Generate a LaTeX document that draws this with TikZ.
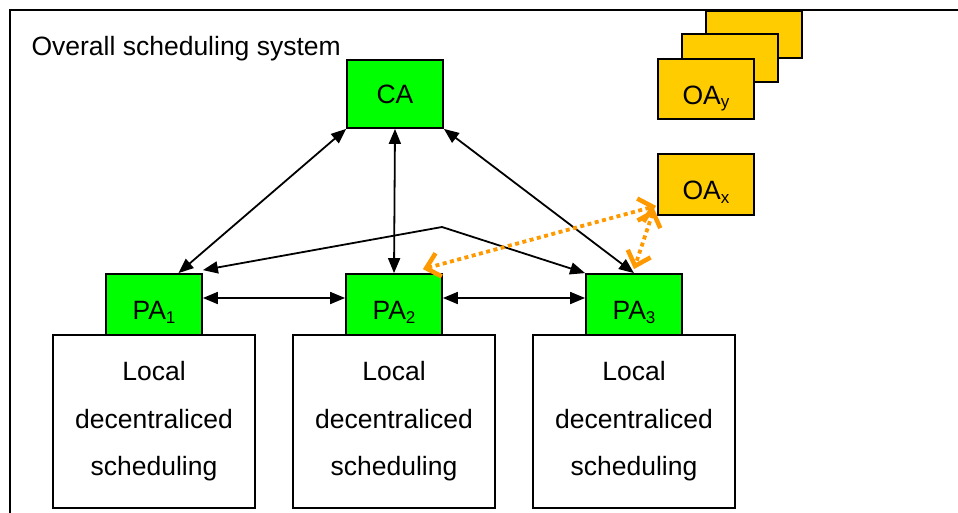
\documentclass[tikz,border=0pt]{standalone}
\usepackage{fontspec}
\setmainfont{Liberation Sans}
\usetikzlibrary{arrows.meta,calc}
\definecolor{pagreen}{HTML}{00FF00}
\definecolor{oayellow}{HTML}{FFCC00}
\definecolor{dotorange}{HTML}{FF9900}
\newcommand\sbs[1]{\raisebox{-3.5pt}{\fontsize{17}{17}\selectfont #1}}
\begin{document}
\begin{tikzpicture}[x=1pt,y=-1pt,
  every node/.style={font=\fontsize{26.5}{30}\selectfont},
  agentbox/.style={draw=black,line width=1.8pt,inner sep=0pt,minimum width=96pt},
  pabox/.style={agentbox,fill=pagreen,minimum height=61pt,text height=33pt,text depth=3pt},
  cabox/.style={agentbox,fill=pagreen,minimum height=68pt},
  oabox/.style={agentbox,fill=oayellow},
  sublabel/.style={text height=33pt,text depth=3pt},
  localbox/.style={draw=black,line width=1.8pt,fill=white,inner sep=0pt,minimum width=202pt,minimum height=173pt,align=center,font=\fontsize{26.5}{47.5}\selectfont},
  blktip/.tip={Triangle[length=15pt,width=12pt]},
  orngtip/.tip={Straight Barb[length=13pt,width=24pt,line width=4.5pt]},
  blk/.style={line width=1.8pt,blktip-blktip},
  orng/.style={draw=dotorange,line width=3.8pt,dash pattern=on 4pt off 3.5pt,orngtip-orngtip}
]
\useasboundingbox (0,0) rectangle (958,512);
\clip (0,0) rectangle (958,512);
\fill[white] (0,0) rectangle (958,512);
% outer frame
\draw[line width=1.6pt] (10,10) rectangle (1000,560);
\node[anchor=base west] (title) at (28,55) {Overall scheduling system};

% local scheduling boxes
\node[localbox] (L1) at (154,421.5) {Local\\decentraliced\\scheduling};
\node[localbox] (L2) at (394,421.5) {Local\\decentraliced\\scheduling};
\node[localbox] (L3) at (634,421.5) {Local\\decentraliced\\scheduling};

% agents
\node[cabox] (CA) at (395,94) {CA};
\node[pabox] (PA1) at (154,304.5) {PA\sbs{1}};
\node[pabox] (PA2) at (394,304.5) {PA\sbs{2}};
\node[pabox] (PA3) at (634,304.5) {PA\sbs{3}};

\node[oabox,minimum height=47pt] (OAb) at (754,34.5) {};
\node[oabox,minimum height=48pt] (OAm) at (730,58) {};
\node[oabox,minimum height=60pt,sublabel] (OAy) at (706,89) {OA\sbs{y}};
\node[oabox,minimum height=61pt,sublabel] (OAx) at (706,184.5) {OA\sbs{x}};

% black connectors
\draw[blk] (CA.south west) -- ($(PA1.north west)!0.75!(PA1.north east)$);
\draw[blk] (CA.south) -- (PA2.north);
\draw[blk] (CA.south east) -- (PA3.north);
\coordinate (peak) at (442,227);
\draw[blk] ([yshift=3pt]PA1.north east) -- (peak) -- (PA3.north west);
\draw[blk] ([yshift=6.5pt]PA1.east) -- ([yshift=6.5pt]PA2.west);
\draw[blk] ([yshift=6.5pt]PA2.east) -- ([yshift=6.5pt]PA3.west);

% orange dotted connectors
\coordinate (oxa) at ($(OAx.south west)+(-1,-10)$);
\coordinate (oxb) at ($(OAx.south west)+(-3,-7)$);
\draw[orng] ([xshift=-20pt,yshift=4pt]PA2.north east) -- (oxa);
\draw[orng] (oxb) -- ([yshift=4pt]PA3.north);
\end{tikzpicture}
\end{document}
